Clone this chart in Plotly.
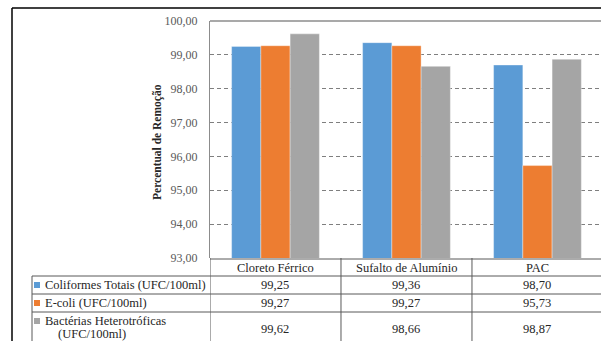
import plotly.graph_objects as go

# Data
categories = ["Cloreto Férrico", "Sufalto de Alumínio", "PAC"]
series_names = [
    "Coliformes Totais (UFC/100ml)",
    "E-coli (UFC/100ml)",
    "Bactérias Heterotróficas (UFC/100ml)",
]
coliformes = [99.25, 99.36, 98.70]
ecoli = [99.27, 99.27, 95.73]
heterotroficas = [99.62, 98.66, 98.87]
y_ticks = [93, 94, 95, 96, 97, 98, 99, 100]

colors = ["#5b9bd5", "#ed7d31", "#a5a5a5"]
series_values = [coliformes, ecoli, heterotroficas]

W, H = 601, 341
L, T, B = 210, 21, 83
plot_h = H - T - B
plot_w = W - L
FONT = "Liberation Serif"
TEXT_COLOR = "#262626"
TABLE_LINE = "#595959"
TABLE_FONT = 12.5


def px_x(px):
    return (px - L) / plot_w


def px_y(py):
    return (H - B - py) / plot_h


def fmt(v):
    return f"{v:.2f}".replace(".", ",")


fig = go.Figure()
for name, vals, col in zip(series_names, series_values, colors):
    fig.add_trace(go.Bar(
        x=list(range(len(categories))), y=vals, name=name,
        marker=dict(color=col, line=dict(color="rgba(255,255,255,0.6)", width=0.6)),
        showlegend=False,
    ))

shapes = []
annotations = []

# Outer chart frame (top and left edges)
shapes.append(dict(type="line", xref="paper", yref="paper",
                   x0=px_x(12), x1=px_x(W + 5), y0=px_y(8), y1=px_y(8),
                   line=dict(color="black", width=1.5)))
shapes.append(dict(type="line", xref="paper", yref="paper",
                   x0=px_x(12), x1=px_x(12), y0=px_y(8), y1=px_y(H + 5),
                   line=dict(color="black", width=1.5)))
# Top border of plot area
shapes.append(dict(type="line", xref="paper", yref="paper",
                   x0=0, x1=px_x(W + 5), y0=1, y1=1,
                   line=dict(color="#8c8c8c", width=1.5)))

# Data table grid
row_lines = [276, 294, 312]
for ry in row_lines:
    shapes.append(dict(type="line", xref="paper", yref="paper",
                       x0=px_x(32), x1=px_x(W + 5), y0=px_y(ry), y1=px_y(ry),
                       line=dict(color=TABLE_LINE, width=1)))
shapes.append(dict(type="line", xref="paper", yref="paper",
                   x0=0, x1=px_x(W + 5), y0=px_y(259), y1=px_y(259),
                   line=dict(color=TABLE_LINE, width=1)))
shapes.append(dict(type="line", xref="paper", yref="paper",
                   x0=px_x(32), x1=px_x(32), y0=px_y(276), y1=px_y(H + 5),
                   line=dict(color=TABLE_LINE, width=1)))
for i in range(len(categories) + 1):
    shapes.append(dict(type="line", xref="x", yref="paper",
                       x0=i - 0.5, x1=i - 0.5, y0=px_y(258), y1=px_y(H + 5),
                       line=dict(color=TABLE_LINE, width=1)))

# Header row with category names
for i, c in enumerate(categories):
    annotations.append(dict(x=i, y=px_y(267.5), xref="x", yref="paper",
                            text=c, showarrow=False, xanchor="center", yanchor="middle",
                            font=dict(family=FONT, size=TABLE_FONT, color=TEXT_COLOR)))

# Series rows: legend keys, names and values
row_centers = [285, 303, 329]
key_centers = [285, 303, 321]
for k, (name, vals, col) in enumerate(zip(series_names, series_values, colors)):
    ky = key_centers[k]
    shapes.append(dict(type="rect", xref="paper", yref="paper",
                       x0=px_x(34), x1=px_x(40), y0=px_y(ky - 3), y1=px_y(ky + 3),
                       fillcolor=col, line=dict(width=0)))
    if k < 2:
        annotations.append(dict(x=px_x(43), y=px_y(ky), xref="paper", yref="paper",
                                text=name, showarrow=False, xanchor="left", yanchor="middle",
                                font=dict(family=FONT, size=TABLE_FONT, color=TEXT_COLOR)))
    else:
        first, second = name.rsplit(" ", 1)
        annotations.append(dict(x=px_x(43), y=px_y(321), xref="paper", yref="paper",
                                text=first, showarrow=False, xanchor="left", yanchor="middle",
                                font=dict(family=FONT, size=TABLE_FONT, color=TEXT_COLOR)))
        annotations.append(dict(x=px_x(92), y=px_y(334), xref="paper", yref="paper",
                                text=second, showarrow=False, xanchor="center", yanchor="middle",
                                font=dict(family=FONT, size=TABLE_FONT, color=TEXT_COLOR)))
    for i, v in enumerate(vals):
        annotations.append(dict(x=i, y=px_y(row_centers[k]), xref="x", yref="paper",
                                text=fmt(v), showarrow=False, xanchor="center", yanchor="middle",
                                font=dict(family=FONT, size=TABLE_FONT, color=TEXT_COLOR)))

# Y-axis title
annotations.append(dict(x=px_x(157), y=px_y(142), xref="paper", yref="paper",
                        text="<b>Percentual de Remoção</b>", textangle=-90, showarrow=False,
                        xanchor="center", yanchor="middle",
                        font=dict(family=FONT, size=11.5, color=TEXT_COLOR)))

fig.update_layout(
    width=W, height=H,
    margin=dict(l=L, r=0, t=T, b=B, pad=0),
    paper_bgcolor="white", plot_bgcolor="white",
    separators=",.",
    barmode="group", bargap=0.33, bargroupgap=0,
    font=dict(family=FONT, color="#595959"),
    shapes=shapes, annotations=annotations,
    xaxis=dict(range=[-0.5, 2.485], showticklabels=False, showgrid=False,
               zeroline=False, showline=False, fixedrange=True),
    yaxis=dict(range=[93, 100], tickvals=y_ticks, tickformat=".2f",
               showgrid=True, gridcolor="#7f7f7f", griddash="4px,3px", gridwidth=1,
               showline=True, linecolor="#8c8c8c", linewidth=1.2,
               zeroline=False, ticks="", ticklabelstandoff=9,
               tickfont=dict(family=FONT, size=12, color="#595959")),
)

fig.write_html("out.html")
